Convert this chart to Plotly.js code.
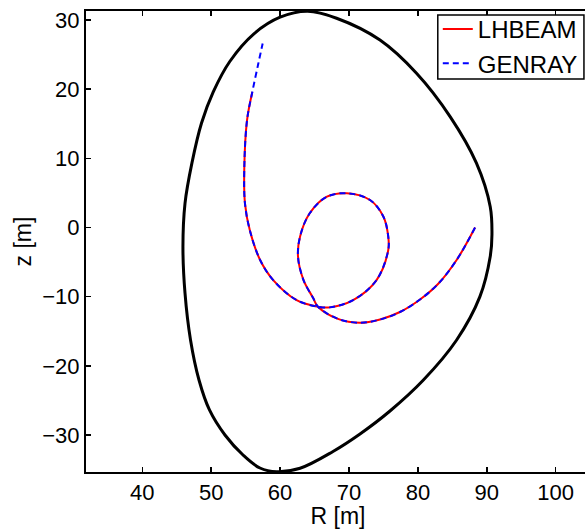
<!DOCTYPE html>
<html>
<head>
<meta charset="utf-8">
<script src="https://cdn.plot.ly/plotly-3.0.1.min.js"></script>
<style>
html, body { margin: 0; padding: 0; overflow: hidden; background: #fff; }
#chart { width: 595px; height: 529px; }
</style>
</head>
<body>
<div id="chart"></div>
<script>
// Plasma boundary (R, z) in m
const boundaryR = [64.0, 60.0, 56.2, 52.7, 50.3, 48.6, 47.2, 46.2, 45.9, 46.2, 47.0, 48.23, 49.75, 52.0, 54.62, 57.08, 59.5, 62.9, 67.68, 71.6, 75.95, 80.8, 85.6, 89.0, 90.5, 90.75, 90.5, 88.5, 84.7, 79.8, 74.5, 68.2, 64.0];
const boundaryZ = [31.25, 30.4, 28.0, 24.0, 19.6, 15.1, 9.3, 3.5, -2.8, -9.5, -16.26, -22.05, -26.38, -30.0, -32.89, -34.77, -35.3, -34.8, -32.38, -29.85, -26.53, -22.05, -16.3, -10.0, -4.2, -1.0, 3.0, 9.3, 16.0, 22.3, 27.1, 30.25, 31.25];

// Ray trajectory from LHBEAM
const lhbeamR = [88.3, 85.67, 82.92, 80.31, 77.4, 74.5, 71.6, 68.4, 65.5, 64.8, 63.4, 62.6, 62.9, 64.3, 66.8, 69.7, 73.05, 75.0, 75.7, 75.7, 74.0, 70.6, 67.2, 65.5, 62.4, 59.0, 57.1, 55.6, 54.9, 54.8, 55.2, 55.97];
const lhbeamZ = [0.0, -4.62, -8.17, -10.41, -12.22, -13.3, -13.78, -13.21, -11.45, -10.2, -7.6, -4.2, -1.3, 2.05, 4.45, 4.95, 3.98, 1.56, -1.33, -3.25, -7.6, -10.5, -11.55, -11.45, -10.5, -7.6, -4.7, -0.36, 3.5, 8.3, 15.5, 19.6];

// Ray trajectory from GENRAY
const genrayR = [88.3, 85.67, 82.92, 80.31, 77.4, 74.5, 71.6, 68.4, 65.5, 64.8, 63.4, 62.6, 62.9, 64.3, 66.8, 69.7, 73.05, 75.0, 75.7, 75.7, 74.0, 70.6, 67.2, 65.5, 62.4, 59.0, 57.1, 55.6, 54.9, 54.8, 55.2, 55.97, 56.84, 57.47];
const genrayZ = [0.0, -4.62, -8.17, -10.41, -12.22, -13.3, -13.78, -13.21, -11.45, -10.2, -7.6, -4.2, -1.3, 2.05, 4.45, 4.95, 3.98, 1.56, -1.33, -3.25, -7.6, -10.5, -11.55, -11.45, -10.5, -7.6, -4.7, -0.36, 3.5, 8.3, 15.5, 19.6, 23.7, 26.6];

const xTicks = [40, 50, 60, 70, 80, 90, 100];
const yTicks = [-30, -20, -10, 0, 10, 20, 30];

const FONT = 'Liberation Sans, Arial, Helvetica, sans-serif';

const traces = [
  { x: boundaryR, y: boundaryZ, mode: 'lines', showlegend: false,
    line: { color: '#000000', width: 3, shape: 'spline', smoothing: 1, simplify: false } },
  { x: lhbeamR, y: lhbeamZ, mode: 'lines', name: 'LHBEAM',
    line: { color: '#ff0000', width: 2, shape: 'spline', smoothing: 1, simplify: false } },
  { x: genrayR, y: genrayZ, mode: 'lines', name: 'GENRAY',
    line: { color: '#0000ff', width: 2, dash: '6px,4px', shape: 'spline', smoothing: 1, simplify: false } }
];

const axisCommon = {
  showgrid: false, zeroline: false,
  showline: true, linecolor: '#000', linewidth: 2, mirror: 'ticks',
  ticks: 'inside', ticklen: 5, tickwidth: 1.5, tickcolor: '#000',
  tickfont: { family: FONT, size: 22, color: '#000' }
};

const layout = {
  width: 595, height: 529,
  margin: { l: 86, r: 5, t: 11, b: 57 },
  paper_bgcolor: '#fff', plot_bgcolor: '#fff',
  font: { family: FONT, color: '#000' },
  xaxis: Object.assign({}, axisCommon, {
    range: [31.83, 104.98], tickmode: 'array', tickvals: xTicks,
    title: { text: 'R [m]', font: { family: FONT, size: 23, color: '#000' }, standoff: 0 }
  }),
  yaxis: Object.assign({}, axisCommon, {
    range: [-35.35, 31.3], tickmode: 'array', tickvals: yTicks,
    title: { text: 'z [m]', font: { family: FONT, size: 23, color: '#000' }, standoff: 4 }
  }),
  shapes: [{
    type: 'rect', xref: 'paper', yref: 'paper', layer: 'above',
    x0: 0.698, x1: 0.988, y0: 0.8525, y1: 0.9913,
    line: { color: '#000', width: 1.5 }, fillcolor: '#fff'
  }],
  legend: {
    x: 0.698, xanchor: 'left', y: 1.0087, yanchor: 'top',
    bgcolor: 'rgba(0,0,0,0)', borderwidth: 0,
    font: { family: FONT, size: 24, color: '#000' },
    itemwidth: 30, tracegroupgap: 0
  },
  showlegend: true
};

Plotly.newPlot('chart', traces, layout, { displayModeBar: false, staticPlot: true });
</script>
</body>
</html>
